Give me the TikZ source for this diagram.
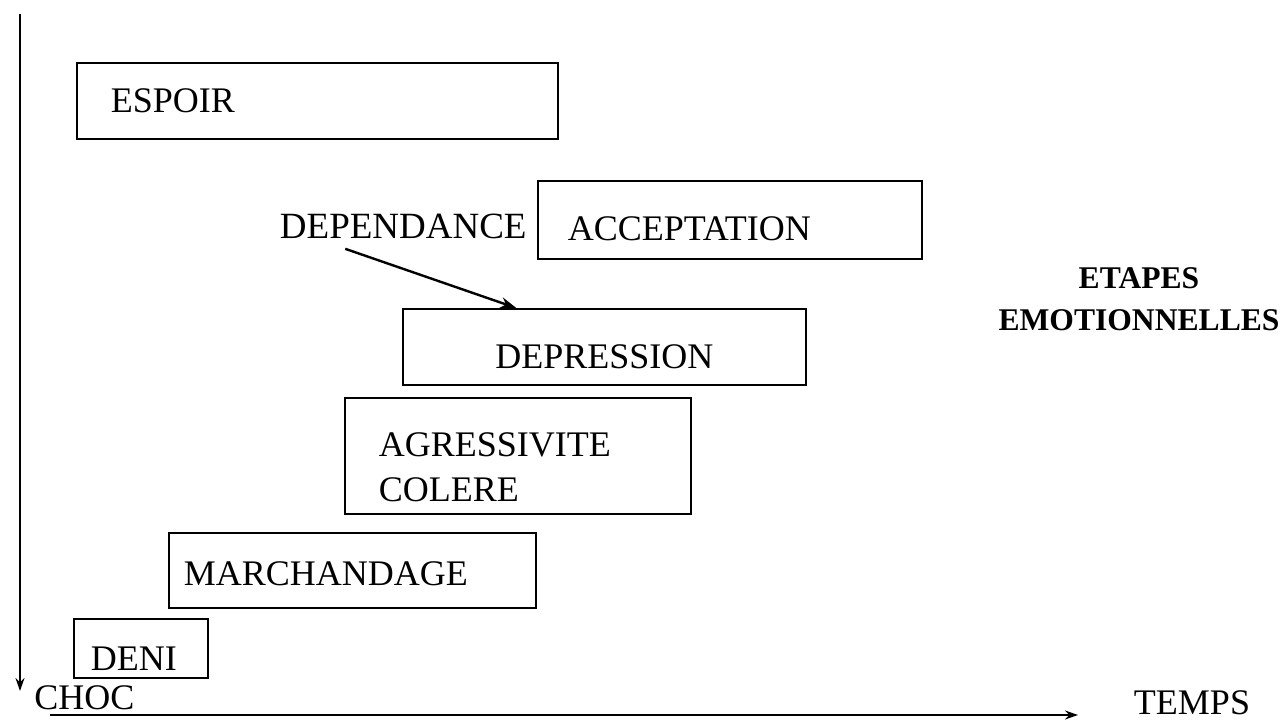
\documentclass[tikz,border=0pt]{standalone}
\usepackage{fontspec}
\setmainfont{Liberation Serif}
\usetikzlibrary{positioning,arrows.meta,calc}
\newdimen\pxu
\pxu=0.5pt
\tikzset{
    >={Stealth[length=6.5pt, width=4.5pt]},
    stage/.style={
        rectangle,
        draw, thick,
        anchor=north west,
        align=left,
        inner ysep=0pt,
        font={\fontsize{18}{22.5}\selectfont}
    },
    axis/.style={draw, line width=1pt, ->},
    word/.style={font={\fontsize{18}{22.5}\selectfont}},
}
\begin{document}
\begin{tikzpicture}[x=0.5pt,y=-0.5pt]
    \useasboundingbox (0,0) rectangle (1282,721);
    % axes
    \coordinate (top) at (20,14);
    \coordinate (bottom) at (20,691);
    \coordinate (start) at (50,715);
    \coordinate (end) at (1078,715);
    \draw[axis] (top) -- (bottom);
    \draw[axis] (start) -- (end);
    \node[word, anchor=west, inner sep=0] (choc) at (34,698) {CHOC};
    \node[word, inner sep=0] (temps) at (1192,703) {TEMPS};

    % stages
    \node[stage, minimum width=481\pxu, minimum height=76\pxu,
        inner xsep=34\pxu, text width=413\pxu] (espoir) at (76,62) {ESPOIR};
    \node[stage, minimum width=384\pxu, minimum height=78\pxu,
        inner xsep=30\pxu, text width=324\pxu, text height=42\pxu, text depth=0pt] (accept) at (537,180) {ACCEPTATION};
    \node[stage, minimum width=403\pxu, minimum height=76\pxu, align=center,
        inner xsep=10\pxu, text width=383\pxu, text height=44\pxu, text depth=0pt] (depr) at (402,308) {DEPRESSION};
    \node[stage, minimum width=346\pxu, minimum height=116\pxu,
        inner xsep=34\pxu, text width=278\pxu, text depth=22\pxu] (agres) at (344,397) {AGRESSIVITE\\COLERE};
    \node[stage, minimum width=367\pxu, minimum height=75\pxu,
        inner xsep=15\pxu, text width=337\pxu, text height=31\pxu, text depth=0pt] (march) at (168,532) {MARCHANDAGE};
    \node[stage, minimum width=134\pxu, minimum height=59\pxu,
        inner xsep=17\pxu, text width=100\pxu, text height=44\pxu, text depth=0pt] (deni) at (73,618) {DENI};

    \node[word, anchor=east, inner sep=0, font={\fontsize{18.5}{22.5}\selectfont}] (dep) at (527,226) {DEPENDANCE};
    \draw[line width=1.2pt, -{Stealth[length=8pt, width=5.5pt]}] ([xshift=-58\pxu, yshift=-10\pxu]dep.south) -- ([xshift=-88\pxu]depr.north);

    \node[align=center, font={\fontsize{15.8}{21}\selectfont\bfseries}] (etapes) at (1139,299)
        {ETAPES\\EMOTIONNELLES};
\end{tikzpicture}
\end{document}
